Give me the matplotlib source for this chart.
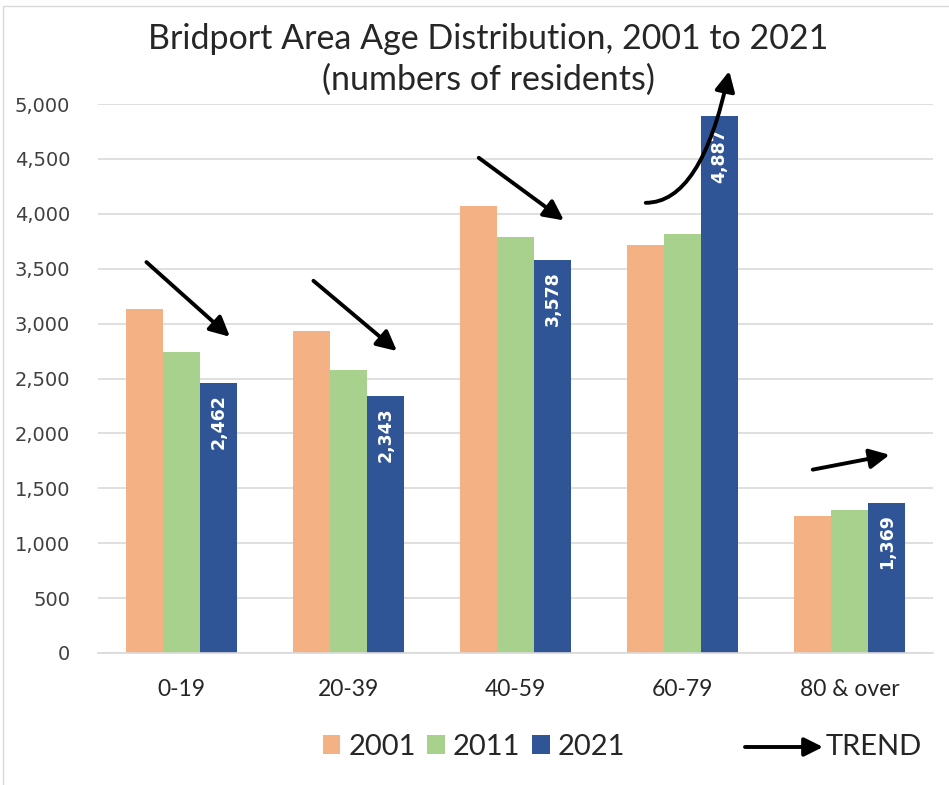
import matplotlib
matplotlib.use("Agg")
import matplotlib.pyplot as plt
from matplotlib.patches import Patch, Rectangle
import numpy as np

categories = ["0-19", "20-39", "40-59", "60-79", "80 & over"]
years = ["2001", "2011", "2021"]
v2001 = [3130, 2930, 4075, 3715, 1245]
v2011 = [2740, 2580, 3785, 3820, 1300]
v2021 = [2462, 2343, 3578, 4887, 1369]
yticks = [0, 500, 1000, 1500, 2000, 2500, 3000, 3500, 4000, 4500, 5000]

# trend arrows (start, end) in data coordinates
trend_arrows = [
    ((-0.21, 3560), (0.29, 2880)),
    ((0.79, 3390), (1.29, 2750)),
    ((1.78, 4510), (2.29, 3940)),
    ((3.78, 1670), (4.24, 1805)),
]
curved_arrow = ((2.78, 4100), (3.28, 5300))

colors = ["#F4B183", "#A9D18E", "#2F5597"]
TXT = "Lato"

fig = plt.figure(figsize=(9.49, 7.85), dpi=100)
ax = fig.add_axes([98/949, 132/785, 835/949, 549/785])

x = np.arange(len(categories))
w = 0.222
series = [v2001, v2011, v2021]
for i, (vals, c) in enumerate(zip(series, colors)):
    ax.bar(x + (i - 1) * w, vals, width=w, color=c, zorder=2)

for xi, v in zip(x, v2021):
    ax.text(xi + w, v - 105, f"{v:,}", rotation=90, ha="center", va="top",
            color="white", fontsize=12.5, fontweight="bold", family="DejaVu Sans", zorder=3)

ax.set_xlim(-0.5, 4.5)
ax.set_ylim(0, 5000)
ax.set_yticks(yticks)
ax.set_yticklabels([f"{t:,}" for t in yticks], family="DejaVu Sans", fontsize=14, color="#404040")
ax.set_xticks(x)
ax.set_xticklabels(categories, family=TXT, fontsize=16.5, color="#262626")
ax.tick_params(axis="y", length=0, pad=20)
ax.tick_params(axis="x", length=0, pad=19)
ax.grid(axis="y", color="#D9D9D9", lw=1.2, zorder=0)
for s in ["top", "right", "left"]:
    ax.spines[s].set_visible(False)
ax.spines["bottom"].set_color("#D9D9D9")
ax.spines["bottom"].set_linewidth(1.2)

arrow_kw = dict(arrowstyle="-|>", color="black", lw=2.8, mutation_scale=30, shrinkA=0, shrinkB=0)
for (s, e) in trend_arrows:
    ax.annotate("", xy=e, xytext=s, arrowprops=arrow_kw, annotation_clip=False)
ax.annotate("", xy=curved_arrow[1], xytext=curved_arrow[0], annotation_clip=False,
            arrowprops=dict(arrow_kw, connectionstyle="angle3,angleA=0,angleB=78"))

fig.text(488/949, 1 - 39/785, "Bridport Area Age Distribution, 2001 to 2021", ha="center", va="center",
         family=TXT, fontsize=24.5, color="#262626")
fig.text(488/949, 1 - 80/785, "(numbers of residents)", ha="center", va="center",
         family=TXT, fontsize=24.5, color="#262626")

handles = [Patch(facecolor=c, edgecolor="none") for c in colors]
fig.legend(handles, years, loc="center", bbox_to_anchor=(474/949, 38/785), ncol=3, frameon=False,
           prop={"family": TXT, "size": 21}, handlelength=0.6, handleheight=0.6,
           handletextpad=0.28, columnspacing=0.4, labelcolor="#262626")

fig.patches.append(Rectangle((3/949, -0.01), 1, 1 - 6/785 + 0.01, transform=fig.transFigure,
                             fill=False, edgecolor="#D9D9D9", lw=1))
ax.annotate("", xy=(823/949, 38/785), xytext=(745/949, 38/785), xycoords="figure fraction",
            textcoords="figure fraction", arrowprops=dict(arrow_kw, lw=2.8, mutation_scale=28))
fig.text(826/949, 38/785, "TREND", ha="left", va="center", family=TXT, fontsize=21, color="#262626")

fig.savefig("out.png", dpi=100, facecolor="white")
